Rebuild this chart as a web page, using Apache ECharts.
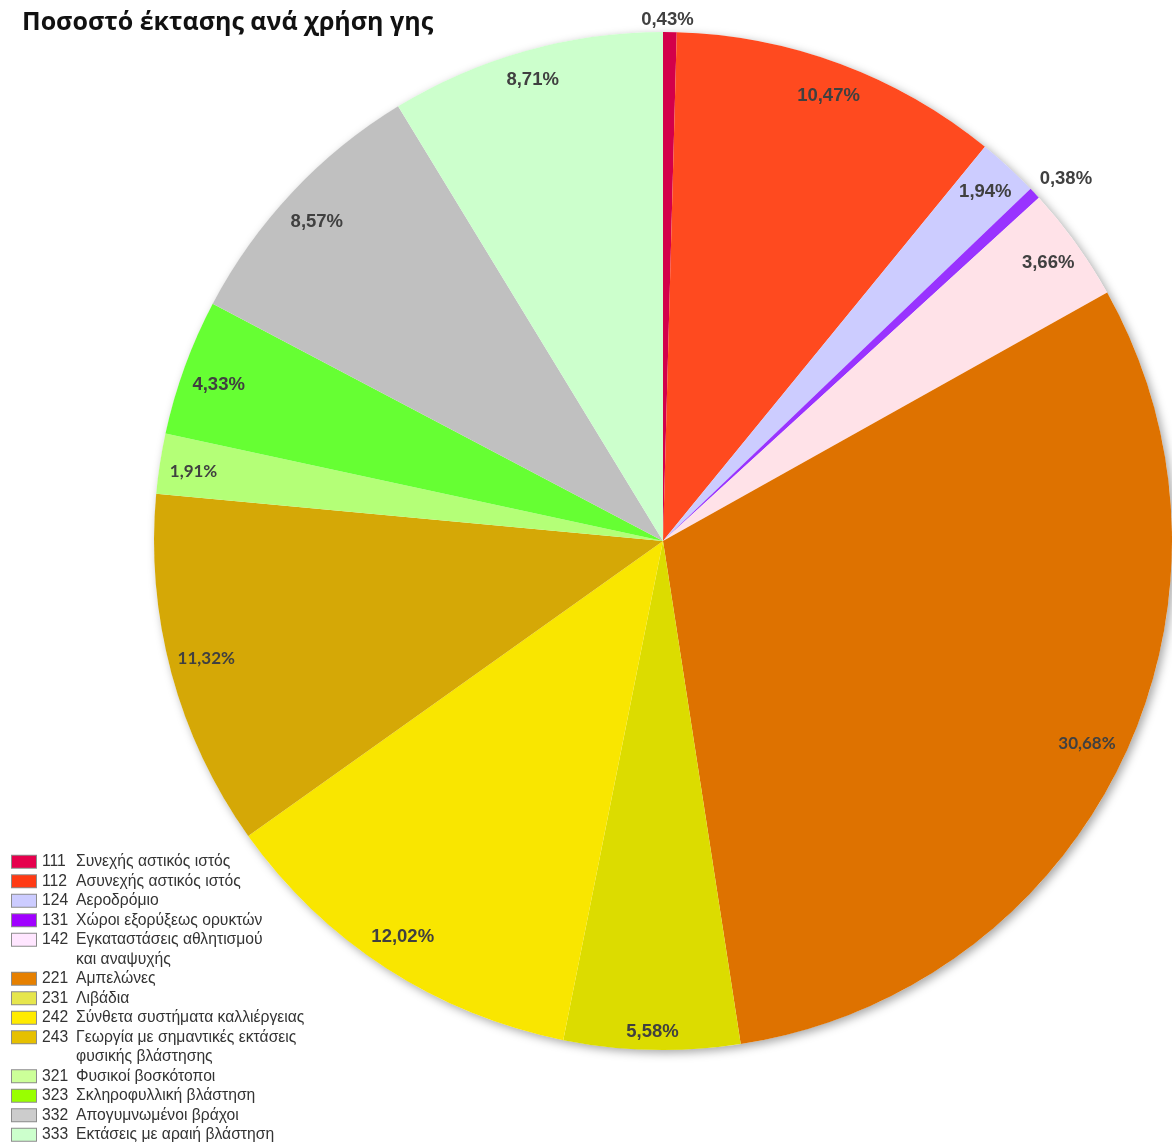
<!DOCTYPE html>
<html>
<head>
<meta charset="utf-8">
<script src="https://cdn.jsdelivr.net/npm/echarts@6/dist/echarts.min.js"></script>
<style>
  html, body { margin: 0; padding: 0; background: #ffffff; }
  #chart { width: 1172px; height: 1146px; }
</style>
</head>
<body>
<div id="chart"></div>
<script>
// Land-use classes (CORINE codes), clockwise from the top of the pie
const codes = ['111', '112', '124', '131', '142', '221', '231', '242', '243', '321', '323', '332', '333'];
const classNames = [
  'Συνεχής αστικός ιστός',
  'Ασυνεχής αστικός ιστός',
  'Αεροδρόμιο',
  'Χώροι εξορύξεως ορυκτών',
  'Εγκαταστάσεις αθλητισμού\nκαι αναψυχής',
  'Αμπελώνες',
  'Λιβάδια',
  'Σύνθετα συστήματα καλλιέργειας',
  'Γεωργία με σημαντικές εκτάσεις\nφυσικής βλάστησης',
  'Φυσικοί βοσκότοποι',
  'Σκληροφυλλική βλάστηση',
  'Απογυμνωμένοι βράχοι',
  'Εκτάσεις με αραιή βλάστηση'
];
// Share of total area, percent
const shares = [0.43, 10.47, 1.94, 0.38, 3.66, 30.68, 5.58, 12.02, 11.32, 1.91, 4.33, 8.57, 8.71];

// Slice fills and legend swatch fills
const sliceColors = ['#d3004a', '#ff4a1f', '#ccccff', '#9933ff', '#ffe2e8', '#de7200', '#dcdc00',
                     '#f9e600', '#d5a806', '#b4ff77', '#66ff33', '#c0c0c0', '#ccffcc'];
const keyColors = ['#e6004d', '#ff3a14', '#ccccff', '#a000ff', '#ffe6ff', '#e68000', '#e6e64d',
                   '#ffeb00', '#e6c000', '#ccff99', '#99ff00', '#cccccc', '#ccffcc'];

const CX = 663, CY = 541, R = 509;

const labelFontArial = '"Liberation Sans", Arial, sans-serif';
const labelFontNarrow = 'Lato, "Open Sans", sans-serif';
// Per-slice label styling
const labelStyle = {
  0: { offset: [-2, -46] },
  3: { offset: [56, -38] },
  5: { fontFamily: labelFontNarrow, fontSize: 17, offset: [-3, -6] },
  6: { offset: [0, 16] },
  7: { offset: [-2, -3] },
  8: { fontFamily: labelFontNarrow, fontSize: 17, offset: [2, -6] },
  9: { fontFamily: labelFontNarrow, fontSize: 17, offset: [0, 3] },
  10: { offset: [2, 6] },
  11: { offset: [0, 6] },
  12: { offset: [-2, -4] }
};

const fullName = i => codes[i] + ' ' + classNames[i];
const fmtPct = v => v.toFixed(2).replace('.', ',') + '%';

const sliceData = shares.map((v, i) => ({
  name: fullName(i),
  value: v,
  itemStyle: { color: sliceColors[i] }
}));

const labelData = shares.map((v, i) => ({
  name: fullName(i),
  value: v,
  label: Object.assign({ formatter: fmtPct(v) }, labelStyle[i] || {})
}));

// Legend rich styles: a swatch per class, then code, then name
const LH = 19.5;
const rich = {
  gap: { width: 6, lineHeight: LH },
  code: { width: 34, lineHeight: LH },
  name: { lineHeight: LH },
  indent: { width: 64, lineHeight: LH }
};
keyColors.forEach((c, i) => {
  rich['k' + i] = {
    width: 24, height: 12, lineHeight: LH,
    backgroundColor: c, borderColor: '#8c8c8c', borderWidth: 1
  };
});

function legendText(name) {
  const i = codes.findIndex((c, k) => fullName(k) === name);
  const lines = classNames[i].split('\n');
  let s = '{k' + i + '|}{gap|}{code|' + codes[i] + '}{name|' + lines[0] + '}';
  for (let l = 1; l < lines.length; l++) {
    s += '\n{indent|}{name|' + lines[l] + '}';
  }
  return s;
}

const chart = echarts.init(document.getElementById('chart'), null, { renderer: 'canvas' });
chart.setOption({
  backgroundColor: '#ffffff',
  animation: false,
  title: {
    text: 'Ποσοστό έκτασης ανά χρήση γης',
    left: 22,
    top: 10,
    padding: 0,
    textStyle: {
      fontFamily: '"Open Sans", sans-serif',
      fontSize: 25,
      fontWeight: 'bold',
      color: '#111111'
    }
  },
  legend: {
    orient: 'vertical',
    left: 7,
    top: 852,
    padding: 0,
    itemGap: 0,
    itemWidth: 0,
    itemHeight: 2,
    selectedMode: false,
    itemStyle: { color: 'transparent', borderWidth: 0, opacity: 0 },
    data: codes.map((c, i) => fullName(i)),
    formatter: legendText,
    textStyle: {
      fontFamily: '"Liberation Sans", Arial, sans-serif',
      fontSize: 15.7,
      color: '#333333',
      lineHeight: LH,
      rich: rich
    }
  },
  series: [
    {
      // backdrop disc carrying the drop shadow
      type: 'pie',
      name: 'backdrop',
      silent: true,
      z: 1,
      center: [CX, CY],
      radius: R,
      label: { show: false },
      labelLine: { show: false },
      itemStyle: {
        color: '#ffffff',
        shadowBlur: 10,
        shadowColor: 'rgba(0,0,0,0.35)',
        shadowOffsetX: 3,
        shadowOffsetY: 3
      },
      data: [{ name: '', value: 1 }]
    },
    {
      type: 'pie',
      name: 'Ποσοστό',
      z: 2,
      center: [CX, CY],
      radius: R,
      startAngle: 90,
      clockwise: true,
      label: { show: false },
      labelLine: { show: false },
      emphasis: { disabled: true },
      itemStyle: { borderWidth: 0 },
      data: sliceData
    },
    {
      // transparent ring holding the percentage labels
      type: 'pie',
      name: 'labels',
      silent: true,
      z: 3,
      center: [CX, CY],
      radius: [434, 510],
      startAngle: 90,
      clockwise: true,
      itemStyle: { color: 'transparent', borderWidth: 0 },
      emphasis: { disabled: true },
      labelLine: { show: false },
      label: {
        show: true,
        position: 'inside',
        rotate: 0,
        fontFamily: labelFontArial,
        fontSize: 18.5,
        fontWeight: 'bold',
        color: '#404040'
      },
      data: labelData
    }
  ]
});
</script>
</body>
</html>
